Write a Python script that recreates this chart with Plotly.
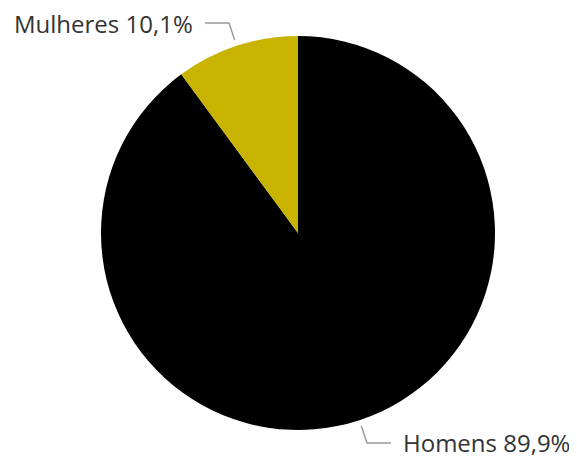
import math
import plotly.graph_objects as go

labels = ["Homens", "Mulheres"]
values = [89.9, 10.1]
colors = ["#000000", "#C8B400"]

OFF = 8                     # page body margin
W, H = 577 - OFF, 459 - OFF  # figure size
cx, cy, r = 298 - OFF, 233 - OFF, 197  # pie centre / radius in figure pixels

fig = go.Figure(go.Pie(
    labels=labels, values=values, sort=False, direction="clockwise", rotation=0,
    marker=dict(colors=colors, line=dict(width=0)),
    textinfo="none", hoverinfo="label+percent", showlegend=False,
    domain=dict(x=[(cx - r) / W, (cx + r) / W], y=[1 - (cy + r) / H, 1 - (cy - r) / H]),
))

def px(x, y):
    return x / W, 1 - y / H

total = sum(values)
cum = 0
shapes, annots = [], []
for lab, v in zip(labels, values):
    mid = (cum + v / 2) / total * 2 * math.pi  # clockwise from 12 o'clock
    cum += v
    sx, sy = math.sin(mid), -math.cos(mid)
    p0 = (cx + (r + 6) * sx, cy + (r + 6) * sy)
    p1 = (cx + (r + 24) * sx, cy + (r + 24) * sy)
    side = 1 if sx > 0 else -1
    p2 = (p1[0] + side * 24, p1[1])
    path = "M {} {} L {} {} L {} {}".format(*px(*p0), *px(*p1), *px(*p2))
    shapes.append(dict(type="path", xref="paper", yref="paper", path=path,
                       line=dict(color="#9a9a9a", width=1.5)))
    tx = p2[0] + side * 10
    ax, ay = px(tx, p2[1])
    pct = f"{v:.1f}".replace(".", ",")
    annots.append(dict(x=ax, y=ay, xref="paper", yref="paper", showarrow=False,
                       text=f"{lab} {pct}%", xanchor="left" if side > 0 else "right",
                       yanchor="middle",
                       font=dict(family="Open Sans", size=24, color="#333333")))

fig.update_layout(width=W, height=H, margin=dict(l=0, r=0, t=0, b=0),
                  paper_bgcolor="white", plot_bgcolor="white",
                  shapes=shapes, annotations=annots)
fig.write_html("out.html")
